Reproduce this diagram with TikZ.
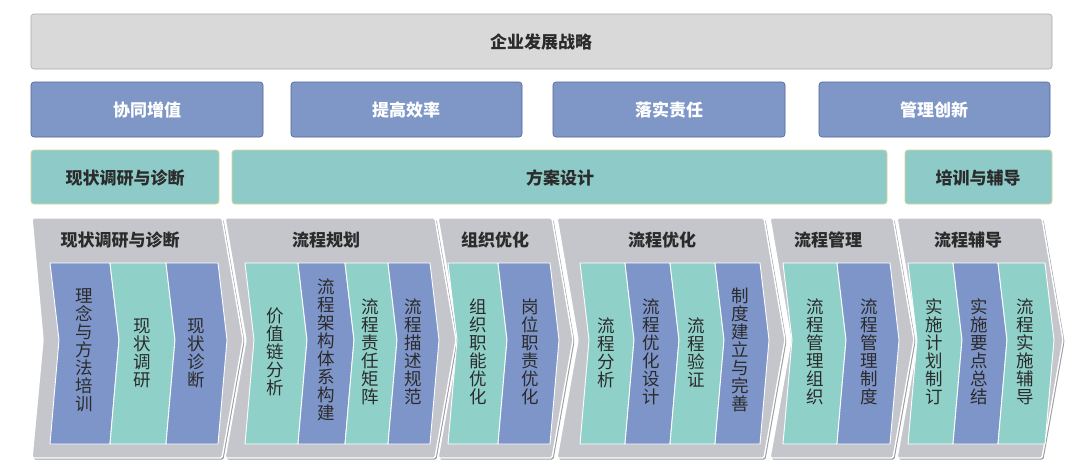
\documentclass[tikz,border=0pt]{standalone}
\usepackage{fontspec}
\newfontfamily\cjk{Noto Sans CJK SC}
\definecolor{topgray}{HTML}{D9D9D9}
\definecolor{topline}{HTML}{A9A9A9}
\definecolor{bluebox}{HTML}{7F97C7}
\definecolor{blueline}{HTML}{52639A}
\definecolor{tealbox}{HTML}{8ECBC8}
\definecolor{tealline}{HTML}{D9D68E}
\definecolor{chevgray}{HTML}{C5C6CC}
\definecolor{chevshadow}{HTML}{9C9DA3}
\definecolor{pblue}{HTML}{7E95C9}
\definecolor{pteal}{HTML}{8FD1C9}
\definecolor{txt}{HTML}{2B2B2B}
\tikzset{
  topbox/.style={fill=topgray, draw=topline, line width=0.6pt, rounded corners=3pt},
  bluestyle/.style={fill=bluebox, draw=blueline, line width=0.6pt, rounded corners=3pt},
  tealstyle/.style={fill=tealbox, draw=tealline, line width=0.8pt, rounded corners=3pt},
  hdr/.style={font=\cjk\bfseries\fontsize{17}{20}\selectfont, text=txt, inner sep=0pt},
  hdrw/.style={font=\cjk\bfseries\fontsize{17}{20}\selectfont, text=white, inner sep=0pt},
  vtext/.style={font=\cjk\fontsize{17.5}{18}\selectfont, text=txt, align=center, inner sep=0pt},
  chevfill/.style={fill=chevgray, draw=white, line width=1.4pt, rounded corners=1.5pt},
  chevshad/.style={fill=chevshadow, rounded corners=1.5pt},
  pbluestyle/.style={fill=pblue, draw=white, line width=0.9pt},
  ptealstyle/.style={fill=pteal, draw=white, line width=0.9pt},
}
% outer chevron: #1 left x, #2 right x, #3 notch depth
\newcommand{\outerchev}[3]{%
  \fill[chevshad] (#1+1.5,219.5) -- (#2+1.5,219.5) -- (#2+22.5,341.5) -- (#2+1.5,459.5) -- (#1+1.5,459.5) -- (#1+#3+1.5,341.5) -- cycle;
  \path[chevfill] (#1,218) -- (#2,218) -- (#2+21,340) -- (#2,458) -- (#1,458) -- (#1+#3,340) -- cycle;
}
% panel: #1 style, #2 left x, #3 right x
\newcommand{\panelchev}[3]{%
  \path[#1] (#2,263) -- (#3,263) -- (#3+9,340) -- (#3,444) -- (#2,444) -- (#2+9,340) -- cycle;
}
\begin{document}
\begin{tikzpicture}[x=1pt,y=-1pt]
\useasboundingbox (0,0) rectangle (1080,461);
\fill[white] (0,0) rectangle (1080,461);

% top strategy
\path[topbox] (31,14) rectangle (1052,69);
\node[hdr] (strategy) at (541,42) {企业发展战略};

% blue goals
\path[bluestyle] (31,82) rectangle (263,137);
\node[hdrw] (g1) at (147,110) {协同增值};
\path[bluestyle] (291,82) rectangle (522,137);
\node[hdrw] (g2) at (406,110) {提高效率};
\path[bluestyle] (553,82) rectangle (785,137);
\node[hdrw] (g3) at (669,110) {落实责任};
\path[bluestyle] (819,82) rectangle (1050,137);
\node[hdrw] (g4) at (934,110) {管理创新};

% teal phases
\path[tealstyle] (31,150) rectangle (219,204);
\node[hdr] (p1) at (125,178) {现状调研与诊断};
\path[tealstyle] (232,150) rectangle (887,204);
\node[hdr] (p2) at (560,178) {方案设计};
\path[tealstyle] (905,150) rectangle (1052,204);
\node[hdr] (p3) at (978,178) {培训与辅导};

% outer chevrons
\outerchev{32}{222}{11}
\outerchev{225}{435}{21}
\outerchev{438}{552}{21}
\outerchev{557}{764}{21}
\outerchev{770}{893}{21}
\outerchev{897}{1042}{21}

\node[hdr] (c1) at (120,240) {现状调研与诊断};
\node[hdr] (c2) at (326,240) {流程规划};
\node[hdr] (c3) at (495,240) {组织优化};
\node[hdr] (c4) at (662,240) {流程优化};
\node[hdr] (c5) at (828,240) {流程管理};
\node[hdr] (c6) at (968,240) {流程辅导};

% chevron 1 panels
\panelchev{pbluestyle}{50}{110}
\panelchev{ptealstyle}{110}{166}
\panelchev{pbluestyle}{166}{218}
\node[vtext] (a1) at (84,350) {理\\念\\与\\方\\法\\培\\训};
\node[vtext] (a2) at (142,353) {现\\状\\调\\研};
\node[vtext] (a3) at (196,353) {现\\状\\诊\\断};

% chevron 2 panels
\panelchev{ptealstyle}{245}{298}
\panelchev{pbluestyle}{298}{345}
\panelchev{ptealstyle}{345}{388}
\panelchev{pbluestyle}{388}{430}
\node[vtext] (b1) at (275,352) {价\\值\\链\\分\\析};
\node[vtext] (b2) at (326,350) {流\\程\\架\\构\\体\\系\\构\\建};
\node[vtext] (b3) at (370,352) {流\\程\\责\\任\\矩\\阵};
\node[vtext] (b4) at (413,352) {流\\程\\描\\述\\规\\范};

% chevron 3 panels
\panelchev{ptealstyle}{448}{498}
\panelchev{pbluestyle}{498}{550}
\node[vtext] (d1) at (478,352) {组\\织\\职\\能\\优\\化};
\node[vtext] (d2) at (530,352) {岗\\位\\职\\责\\优\\化};

% chevron 4 panels
\panelchev{ptealstyle}{580}{625}
\panelchev{pbluestyle}{625}{670}
\panelchev{ptealstyle}{670}{715}
\panelchev{pbluestyle}{715}{760}
\node[vtext] (e1) at (606,353) {流\\程\\分\\析};
\node[vtext] (e2) at (651,352) {流\\程\\优\\化\\设\\计};
\node[vtext] (e3) at (696,353) {流\\程\\验\\证};
\node[vtext] (e4) at (740,350) {制\\度\\建\\立\\与\\完\\善};

% chevron 5 panels
\panelchev{ptealstyle}{783}{837}
\panelchev{pbluestyle}{837}{890}
\node[vtext] (f1) at (815,352) {流\\程\\管\\理\\组\\织};
\node[vtext] (f2) at (869,352) {流\\程\\管\\理\\制\\度};

% chevron 6 panels
\panelchev{ptealstyle}{908}{953}
\panelchev{pbluestyle}{953}{998}
\panelchev{ptealstyle}{998}{1045}
\node[vtext] (h1) at (934,352) {实\\施\\计\\划\\制\\订};
\node[vtext] (h2) at (979,352) {实\\施\\要\\点\\总\\结};
\node[vtext] (h3) at (1025,352) {流\\程\\实\\施\\辅\\导};
\end{tikzpicture}
\end{document}
